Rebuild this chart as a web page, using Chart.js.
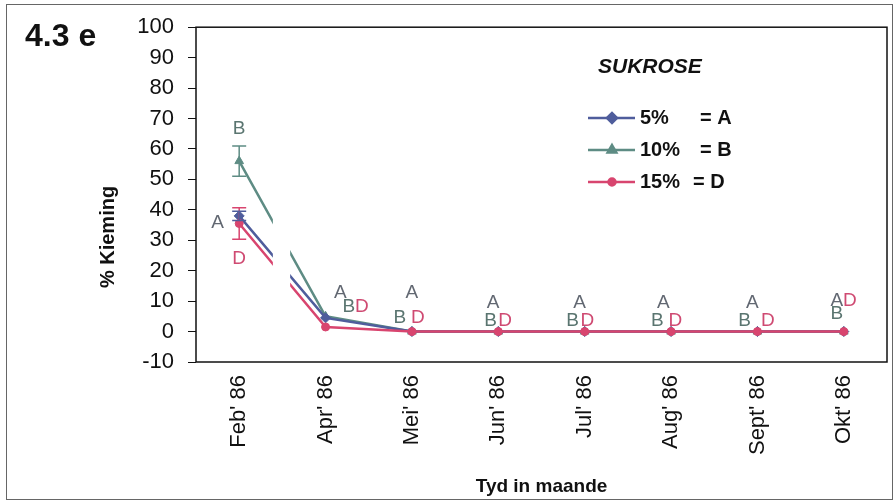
<!DOCTYPE html>
<html>
<head>
<meta charset="utf-8">
<script src="https://cdn.jsdelivr.net/npm/chart.js@4.4.1/dist/chart.umd.min.js"></script>
<style>
  html, body { margin: 0; padding: 0; background: #fff; }
  #wrap { width: 895px; height: 502px; position: relative; }
</style>
</head>
<body>
<div id="wrap"><canvas id="kiemChart"></canvas></div>
<script>
// maande
var months = ["Feb' 86", "Apr' 86", "Mei' 86", "Jun' 86", "Jul' 86", "Aug' 86", "Sept' 86", "Okt' 86"];

// % kieming per sukrose konsentrasie
var sukrose5 = [38, 4.5, 0, 0, 0, 0, 0, 0];
var sukrose10 = [56, 5, 0, 0, 0, 0, 0, 0];
var sukrose15 = [35.5, 1.5, 0, 0, 0, 0, 0, 0];

// foutstawe (standaardfout) by Feb
var err5 = [1.5, 0, 0, 0, 0, 0, 0, 0];
var err10 = [5, 0, 0, 0, 0, 0, 0, 0];
var err15 = [5.2, 0, 0, 0, 0, 0, 0, 0];

var yTicks = [-10, 0, 10, 20, 30, 40, 50, 60, 70, 80, 90, 100];

// betekenisletters: [maand, verskuiwing, waarde, letter]
var letters = [
  [0, 0, 66.7, 'B'], [0, -0.25, 35.7, 'A'], [0, 0, 24, 'D'],
  [1, 0.17, 12.9, 'A'], [1, 0.27, 8, 'B'], [1, 0.42, 8, 'D'],
  [2, 0, 12.9, 'A'], [2, -0.14, 4.4, 'B'], [2, 0.07, 4.4, 'D'],
  [3, -0.06, 9.6, 'A'], [3, -0.09, 3.7, 'B'], [3, 0.08, 3.7, 'D'],
  [4, -0.06, 9.6, 'A'], [4, -0.14, 3.7, 'B'], [4, 0.03, 3.7, 'D'],
  [5, -0.09, 9.6, 'A'], [5, -0.16, 3.7, 'B'], [5, 0.05, 3.7, 'D'],
  [6, -0.06, 9.6, 'A'], [6, -0.15, 3.7, 'B'], [6, 0.12, 3.7, 'D'],
  [7, -0.08, 10.2, 'A'], [7, 0.07, 10.2, 'D'], [7, -0.08, 5.8, 'B']
];

var legendPct = ['5%', '10%', '15%'];
var legendCode = ['= A', '= B', '= D'];

var blue = '#4f5d9c';
var green = '#5e8c84';
var pink = '#d8456f';
var letterColors = { A: '#626872', B: '#5a7570', D: '#cf4a72' };

var extras = {
  id: 'extras',
  beforeDraw: function (chart) {
    var c = chart.ctx;
    c.save();
    c.fillStyle = '#fff';
    c.fillRect(0, 0, chart.width, chart.height);
    c.restore();
  },
  afterDatasetsDraw: function (chart) {
    var c = chart.ctx;
    var xs = chart.scales.x, ys = chart.scales.y;
    var a = chart.chartArea;
    var step = xs.getPixelForValue(1) - xs.getPixelForValue(0);
    c.save();
    // breuk in die lyne tussen Feb en Apr
    c.fillStyle = '#fff';
    var gx = xs.getPixelForValue(0) + 0.39 * step;
    c.fillRect(gx, a.top + 2, 0.2 * step, a.bottom - a.top - 4);

    // foutstawe
    var sets = [[sukrose10, err10, green], [sukrose15, err15, pink], [sukrose5, err5, blue]];
    sets.forEach(function (s) {
      for (var i = 0; i < s[0].length; i++) {
        if (!s[1][i]) continue;
        var x = xs.getPixelForValue(i);
        var y1 = ys.getPixelForValue(s[0][i] + s[1][i]);
        var y2 = ys.getPixelForValue(s[0][i] - s[1][i]);
        c.strokeStyle = s[2];
        c.lineWidth = 1.5;
        c.beginPath();
        c.moveTo(x, y1); c.lineTo(x, y2);
        c.moveTo(x - 7, y1); c.lineTo(x + 7, y1);
        c.moveTo(x - 7, y2); c.lineTo(x + 7, y2);
        c.stroke();
      }
    });

    // letters
    c.font = '19px "Liberation Sans", Arial, sans-serif';
    c.textAlign = 'center';
    c.textBaseline = 'middle';
    letters.forEach(function (l) {
      c.fillStyle = letterColors[l[3]];
      c.fillText(l[3], xs.getPixelForValue(l[0]) + l[1] * step, ys.getPixelForValue(l[2]));
    });
    c.restore();
  },
  afterDraw: function (chart) {
    var c = chart.ctx;
    var a = chart.chartArea;
    c.save();
    // raam om plotarea
    c.strokeStyle = '#111';
    c.lineWidth = 1.5;
    c.strokeRect(a.left, a.top, a.right - a.left, a.bottom - a.top);
    // buitenste raam
    c.strokeStyle = '#666';
    c.lineWidth = 1;
    c.strokeRect(6.5, 4.5, 886, 495);

    // figuurnommer
    c.fillStyle = '#111';
    c.font = 'bold 32px "Liberation Sans", Arial, sans-serif';
    c.textAlign = 'left';
    c.textBaseline = 'middle';
    c.fillText('4.3 e', 25, 37);

    // y-as titel
    c.save();
    c.translate(108, 237);
    c.rotate(-Math.PI / 2);
    c.textAlign = 'center';
    c.font = 'bold 20px "Liberation Sans", Arial, sans-serif';
    c.fillText('% Kieming', 0, 0);
    c.restore();

    // legende
    c.font = 'bold italic 21px "Liberation Sans", Arial, sans-serif';
    c.textAlign = 'left';
    c.fillText('SUKROSE', 598, 67);
    var cols = [blue, green, pink];
    var styles = ['rectRot', 'triangle', 'circle'];
    var rads = [5, 5, 3.5];
    for (var i = 0; i < 3; i++) {
      var y = 118 + i * 32;
      c.strokeStyle = cols[i];
      c.lineWidth = 2.5;
      c.beginPath();
      c.moveTo(588, y); c.lineTo(635, y);
      c.stroke();
      c.fillStyle = cols[i];
      Chart.helpers.drawPoint(c, { pointStyle: styles[i], radius: rads[i], borderWidth: 1 }, 612, y);
      c.fillStyle = '#111';
      c.font = 'bold 20px "Liberation Sans", Arial, sans-serif';
      c.fillText(legendPct[i], 640, y);
      c.fillText(legendCode[i], i === 2 ? 693 : 700, y);
    }
    c.restore();
  }
};

function lineSet(label, data, color, style, radius, order) {
  return {
    label: label,
    data: data,
    borderColor: color,
    backgroundColor: color,
    borderWidth: 2.5,
    pointStyle: style,
    pointRadius: radius,
    pointBorderWidth: 1,
    tension: 0,
    order: order
  };
}

var ctx = document.getElementById('kiemChart').getContext('2d');
var kiemChart = new Chart(ctx, {
  type: 'line',
  data: {
    labels: months,
    datasets: [
      lineSet('5%', sukrose5, blue, 'rectRot', 5, 1),
      lineSet('10%', sukrose10, green, 'triangle', 5, 2),
      lineSet('15%', sukrose15, pink, 'circle', 4, 0)
    ]
  },
  options: {
    responsive: true,
    maintainAspectRatio: false,
    animation: false,
    layout: { padding: { left: 0, top: 25, right: 8, bottom: 0 } },
    plugins: {
      legend: { display: false },
      tooltip: { enabled: false }
    },
    scales: {
      x: {
        offset: true,
        grid: { display: false, drawTicks: false },
        border: { display: false },
        ticks: {
          minRotation: 90,
          maxRotation: 90,
          padding: 13,
          color: '#111',
          font: { family: '"Liberation Sans", Arial, sans-serif', size: 22 }
        },
        title: {
          display: true,
          text: 'Tyd in maande',
          color: '#111',
          font: { family: '"Liberation Sans", Arial, sans-serif', size: 19, weight: 'bold' }
        },
        afterFit: function (scale) { scale.height = 140; }
      },
      y: {
        min: -10,
        max: 100,
        afterBuildTicks: function (scale) {
          scale.ticks = yTicks.map(function (v) { return { value: v }; });
        },
        grid: { drawOnChartArea: false, drawTicks: true, tickLength: 8, color: '#111' },
        border: { display: false },
        ticks: {
          padding: 14,
          color: '#111',
          font: { family: '"Liberation Sans", Arial, sans-serif', size: 22 }
        },
        afterFit: function (scale) { scale.width = 196; }
      }
    }
  },
  plugins: [extras]
});
</script>
</body>
</html>
